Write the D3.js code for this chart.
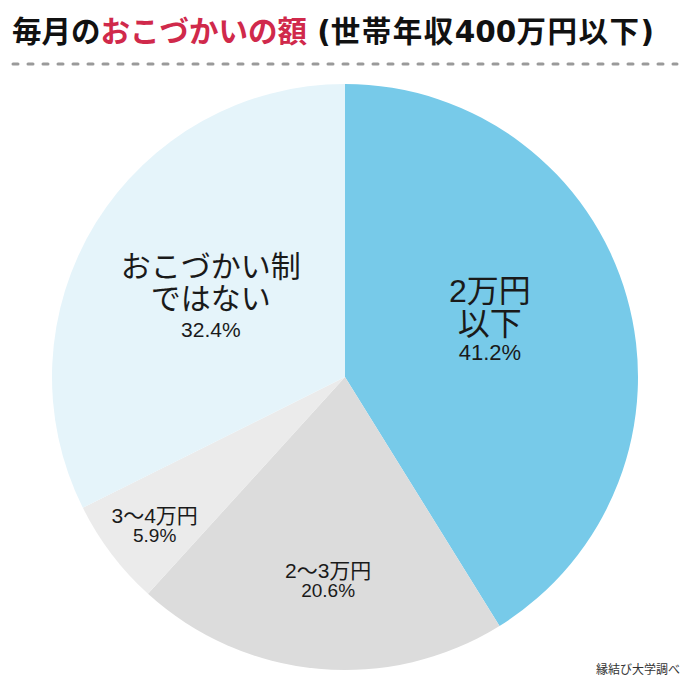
<!DOCTYPE html>
<html>
<head>
<meta charset="utf-8">
<script src="https://cdn.jsdelivr.net/npm/d3@7"></script>
<style>
  body { margin: 0; background: #fff; }
  svg { display: block; }
</style>
</head>
<body>
<svg width="690" height="684"></svg>
<script>
var canvas = d3.select("svg");

var iWidth = +canvas.attr("width");
var iHeight = +canvas.attr("height");

// data
var categories = ["2万円以下", "2〜3万円", "3〜4万円", "おこづかい制ではない"];
var labelLines = [["2万円", "以下"], ["2〜3万円"], ["3〜4万円"], ["おこづかい制", "ではない"]];
var shares = [41.2, 20.6, 5.9, 32.4];

var colors = ["#77cae9", "#dcdcdc", "#ebebeb", "#e5f4fa"];

// label placement per slice: distance from centre (fraction of radius), angle nudge (deg)
var labelRadius = [0.531, 0.700, 0.826, 0.534];
var labelAngleShift = [-5.5, -0.5, -1, -0.8];
var labelNudgeY = -3;
var nameSize = [32, 21, 21, 30];
var valueSize = [22, 19, 19, 21];
var lineGap = [33, 0, 0, 32];
var valueGap = [25, 19, 19, 28];

var cx = 345, cy = 377, radius = 293;

var fontLabel = "'Liberation Sans', 'Noto Sans CJK JP', sans-serif";
var fontCjk = "'Noto Sans CJK JP', sans-serif";
var fontLatin = "'DejaVu Sans', sans-serif";

// title
var title = canvas.append("text")
    .attr("x", 12)
    .attr("y", 42)
    .style("font-family", fontCjk)
    .style("font-weight", "bold")
    .style("font-size", "29.5px")
    .attr("fill", "#111");
title.append("tspan").text("毎月の");
title.append("tspan").attr("fill", "#d0294b").text("おこづかいの額");
title.append("tspan").style("font-family", fontLatin).text(" (");
title.append("tspan").style("letter-spacing", "1.5px").text("世帯年収");
title.append("tspan").style("font-family", fontLatin).text("400");
title.append("tspan").style("letter-spacing", "1.5px").text("万円以下");
title.append("tspan").style("font-family", fontLatin).text(")");

canvas.append("line")
    .attr("x1", 13).attr("x2", 677)
    .attr("y1", 64).attr("y2", 64)
    .attr("stroke", "#9a9a9a")
    .attr("stroke-width", 3)
    .attr("stroke-linecap", "round")
    .attr("stroke-dasharray", "5,10");

var pie = d3.pie().sort(null).value(d => d);
var arcs = pie(shares);

var arc = d3.arc().innerRadius(0).outerRadius(radius);

var g = canvas.append("g")
    .attr("transform", `translate(${cx},${cy})`);

g.selectAll("path")
    .data(arcs)
    .enter()
    .append("path")
    .attr("d", arc)
    .attr("fill", (d, i) => colors[i]);

var labels = g.selectAll("text.label")
    .data(arcs)
    .enter()
    .append("text")
    .attr("class", "label")
    .attr("text-anchor", "middle")
    .style("font-family", fontLabel)
    .attr("fill", "#1a1a1a")
    .attr("transform", function (d, i) {
        var r = radius * labelRadius[i];
        var a = (d.startAngle + d.endAngle) / 2 + labelAngleShift[i] * Math.PI / 180;
        var c = d3.pointRadial(a, r);
        return `translate(${c[0]},${c[1] + labelNudgeY})`;
    });

labels.each(function (d, i) {
    var t = d3.select(this);
    var lines = labelLines[i];
    // block spans from top of first line to baseline of the value
    var top = -nameSize[i] * 0.88;
    var bottom = (lines.length - 1) * lineGap[i] + valueGap[i];
    var shift = -(top + bottom) / 2;
    lines.forEach(function (ln, k) {
        t.append("tspan")
            .attr("x", 0)
            .attr("y", shift + k * lineGap[i])
            .style("font-size", nameSize[i] + "px")
            .text(ln);
    });
    t.append("tspan")
        .attr("x", 0)
        .attr("y", shift + bottom)
        .style("font-size", valueSize[i] + "px")
        .text(shares[i].toFixed(1) + "%");
});

canvas.append("text")
    .attr("x", 680)
    .attr("y", 674)
    .attr("text-anchor", "end")
    .style("font-family", fontCjk)
    .style("font-size", "12px")
    .attr("fill", "#333")
    .text("縁結び大学調べ");
</script>
</body>
</html>
